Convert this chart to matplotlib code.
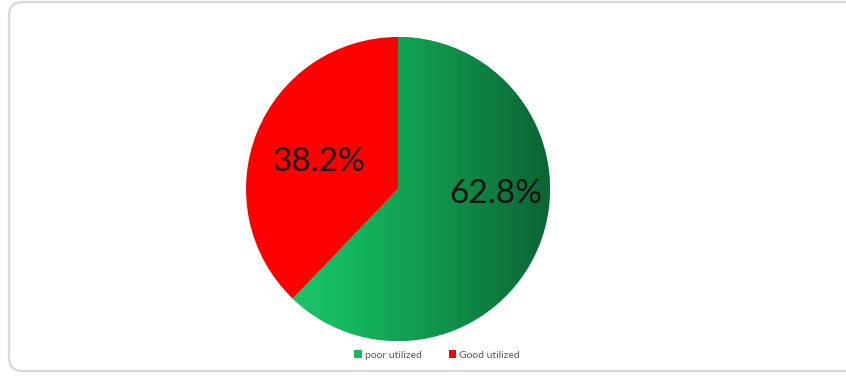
import numpy as np
import matplotlib.pyplot as plt
from matplotlib.patches import FancyBboxPatch, Patch
from matplotlib.colors import LinearSegmentedColormap

categories = ["poor utilized", "Good utilized"]
values = [62.8, 38.2]
colors = ["#16b862", "#ff0000"]
label_pos = [(0.64, -0.03), (-0.52, 0.18)]

plt.rcParams["font.family"] = ["Lato", "DejaVu Sans"]

fig = plt.figure(figsize=(8.46, 3.76), dpi=100)

# rounded chart frame
frame = FancyBboxPatch((9 / 846, 5 / 376), 860 / 846, 369 / 376,
                       boxstyle="round,pad=0,rounding_size=0.016",
                       transform=fig.transFigure, facecolor="white",
                       edgecolor="#d9d9d9", linewidth=1.6, mutation_aspect=846 / 376,
                       zorder=-1)
fig.patches.append(frame)

ax = fig.add_axes([246 / 846, 35 / 376, 304 / 846, 304 / 376])
wedges, _ = ax.pie(values, colors=colors, startangle=90, counterclock=False,
                   radius=1, wedgeprops=dict(linewidth=0))
ax.set_xlim(-1, 1)
ax.set_ylim(-1, 1)
ax.set_aspect("equal")
ax.axis("off")

# horizontal green gradient clipped to the green wedge
cmap = LinearSegmentedColormap.from_list("g", ["#1fd073", "#15b860", "#109049", "#0c6434"])
grad = np.linspace(0, 1, 256).reshape(1, -1)
im = ax.imshow(grad, cmap=cmap, extent=(-1, 1, -1, 1), aspect="auto", zorder=1.5)
im.set_clip_path(wedges[0])

for v, (x, y) in zip(values, label_pos):
    ax.text(x, y, f"{v}%", ha="center", va="center", fontsize=24,
            color="#111111", zorder=3)

handles = [Patch(facecolor=c, edgecolor="none") for c in ["#16b862", "#ff0000"]]
fig.legend(handles, categories, loc="center", bbox_to_anchor=(437 / 846, 1 - 355 / 376),
           ncol=2, frameon=False, fontsize=7.5, labelcolor="#595959",
           handlelength=0.7, handleheight=0.7, handletextpad=0.3, columnspacing=2.6)

fig.savefig("out.png", dpi=100)
